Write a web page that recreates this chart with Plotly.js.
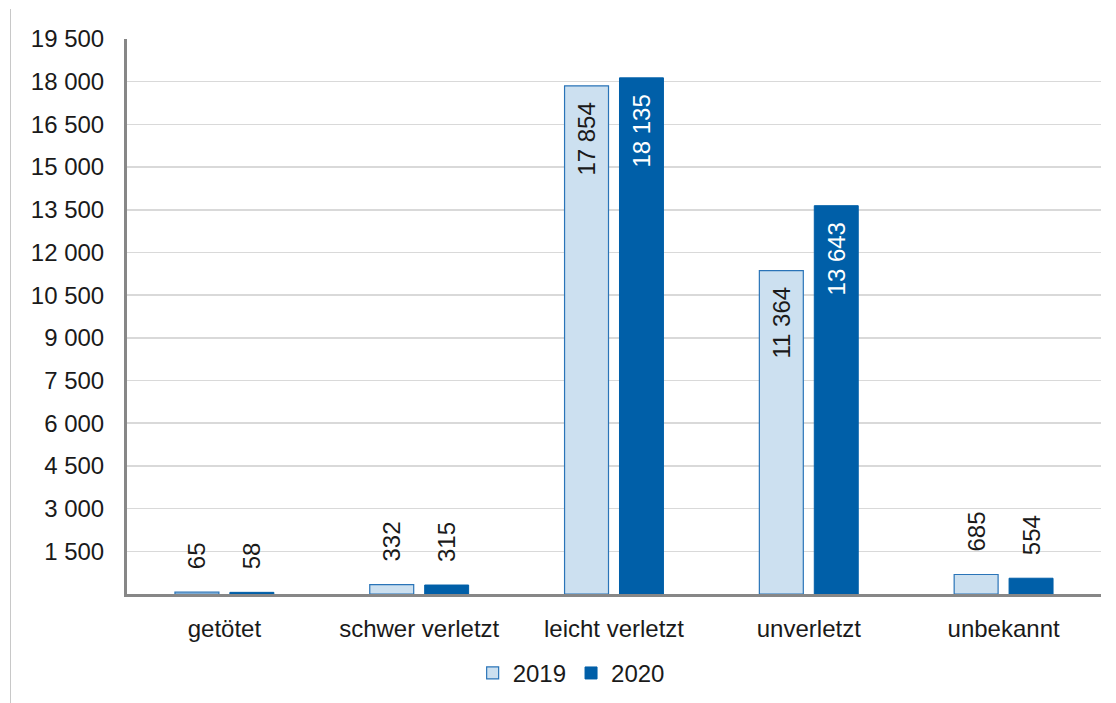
<!DOCTYPE html>
<html>
<head>
<meta charset="utf-8">
<script src="https://cdn.plot.ly/plotly-3.0.1.min.js"></script>
<style>
  html, body { margin: 0; padding: 0; background: #fff; }
  #wrap { position: relative; width: 1116px; height: 703px; }
  #border { position: absolute; left: 10px; top: 9px; width: 0; height: 694px; border-left: 1px solid #c8c8c8; }
  #chart { position: absolute; left: 0; top: 0; width: 1116px; height: 703px; }
</style>
</head>
<body>
<div id="wrap"><div id="chart"></div><div id="border"></div></div>
<script>
const categories = ['getötet', 'schwer verletzt', 'leicht verletzt', 'unverletzt', 'unbekannt'];
const values2019 = [65, 332, 17854, 11364, 685];
const values2020 = [58, 315, 18135, 13643, 554];
const seriesNames = ['2019', '2020'];
const yTicks = [1500, 3000, 4500, 6000, 7500, 9000, 10500, 12000, 13500, 15000, 16500, 18000, 19500];

const FONT = 'Liberation Sans, Arial, sans-serif';
const FS = 24;
function fmt(v) {
  return String(v).replace(/\B(?=(\d{3})+(?!\d))/g, ' ');
}
function pos(vals) {
  return vals.map(v => v > 5000 ? 'inside' : 'outside');
}
function lab(vals) {
  return vals.map(v => v > 5000 ? '\u00a0' + fmt(v) + '\u00a0\u00a0' : '\u00a0\u00a0\u00a0' + fmt(v));
}

const trace2019 = {
  type: 'bar', name: seriesNames[0], x: categories, y: values2019,
  marker: { color: '#cce0f0', line: { color: '#2a74b8', width: 1.2 } },
  text: lab(values2019),
  textposition: pos(values2019), insidetextanchor: 'end', textangle: -90,
  constraintext: 'none', cliponaxis: false,
  insidetextfont: { family: FONT, size: FS, color: '#1a1a1a' },
  outsidetextfont: { family: FONT, size: FS, color: '#1a1a1a' },
  hoverinfo: 'x+y'
};
const trace2020 = {
  type: 'bar', name: seriesNames[1], x: categories, y: values2020,
  marker: { color: '#005fa8', line: { color: '#005fa8', width: 1 } },
  text: lab(values2020),
  textposition: pos(values2020), insidetextanchor: 'end', textangle: -90,
  constraintext: 'none', cliponaxis: false,
  insidetextfont: { family: FONT, size: FS, color: '#ffffff' },
  outsidetextfont: { family: FONT, size: FS, color: '#1a1a1a' },
  hoverinfo: 'x+y'
};

const layout = {
  width: 1116, height: 703,
  margin: { l: 127, r: 15, t: 39, b: 109, autoexpand: false },
  paper_bgcolor: 'rgba(0,0,0,0)', plot_bgcolor: '#ffffff',
  font: { family: FONT, size: FS, color: '#1a1a1a' },
  separators: ', ',
  barmode: 'group', bargap: 0.436, bargroupgap: 0.2,
  showlegend: true,
  legend: {
    orientation: 'h', x: 0.456, xanchor: 'center', y: -0.143, yanchor: 'middle',
    font: { family: FONT, size: FS, color: '#1a1a1a' },
    itemwidth: 30, traceorder: 'normal', tracegroupgap: 0
  },
  xaxis: {
    showline: true, linecolor: '#878787', linewidth: 3,
    showgrid: false, ticks: '', ticklabelstandoff: 11, automargin: false,
    tickfont: { family: FONT, size: FS, color: '#1a1a1a' },
    fixedrange: true
  },
  yaxis: {
    range: [0, 19500], tickvals: yTicks, ticktext: yTicks.map(fmt),
    showline: true, linecolor: '#878787', linewidth: 3,
    showgrid: true, gridcolor: '#d9d9d9', gridwidth: 1.5,
    zeroline: false, ticks: '', ticklabelstandoff: 15, automargin: false,
    tickfont: { family: FONT, size: FS, color: '#1a1a1a' },
    fixedrange: true
  }
};

Plotly.newPlot('chart', [trace2019, trace2020], layout, { displayModeBar: false, staticPlot: true });
</script>
</body>
</html>
